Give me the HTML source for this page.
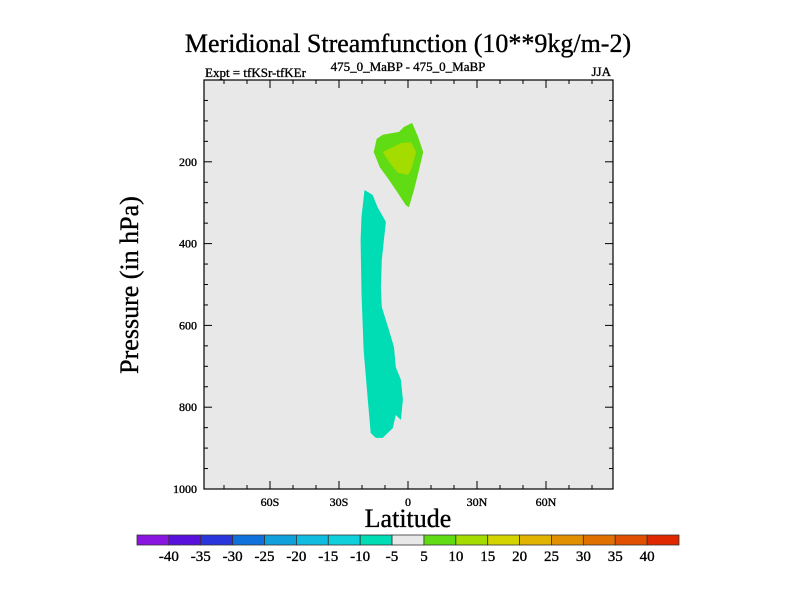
<!DOCTYPE html>
<html><head><meta charset="utf-8"><style>
html,body{margin:0;padding:0;background:#fff}
svg text{font-family:"Liberation Serif",serif;fill:#000;stroke:#000;stroke-width:0.35}
</style></head><body>
<svg id="chart" width="800" height="600" viewBox="0 0 800 600">
<text x="408" y="52" text-anchor="middle" font-size="26">Meridional Streamfunction (10**9kg/m-2)</text>
<text x="205" y="77" font-size="13">Expt = tfKSr-tfKEr</text>
<text x="408" y="71" text-anchor="middle" font-size="13">475_0_MaBP - 475_0_MaBP</text>
<text x="611" y="76" text-anchor="end" font-size="13">JJA</text>
<rect x="204" y="80" width="409" height="409" fill="#e8e8e8"/>
<g id="marks"></g>
<g id="axes"></g>
<rect x="204" y="80" width="409" height="409" fill="none" stroke="#000" stroke-width="1.2"/>
<text transform="translate(138,285) rotate(-90)" text-anchor="middle" font-size="26">Pressure (in hPa)</text>
<text x="408" y="527" text-anchor="middle" font-size="26">Latitude</text>
<g id="colorbar"></g>
</svg>
<script>
const levels=[-40,-35,-30,-25,-20,-15,-10,-5,5,10,15,20,25,30,35,40];
const colors=["#8a14e0","#5a10dc","#2a36dc","#1070dc","#10a0dc","#10bce0","#10d0dc","#00dcb4","#e8e8e8","#60dc14","#a4dc00","#d4d400","#e0b400","#e09000","#e07000","#e05000","#e02800"];
const yTicks=[200,400,600,800,1000];
const xTicks=[-60,-30,0,30,60];
const xTickLabels=["60S","30S","0","30N","60N"];
const pos10Lat=[-14.9,-13.6,-11.0,-3.9,-1.8,1.8,4.4,6.6,4.8,2.6,0.4,-0.9,-5.3,-8.3,-12.3];
const pos10P=[176,144,134,127,115,105,139,176,220,269,311,306,269,244,213];
const pos15Lat=[-11.0,-6.6,-3.1,1.3,3.5,1.3,0,-4.4,-7.9];
const pos15P=[176,164,154,152,176,220,232,227,203];
const negLat=[-18.9,-15.4,-13.2,-9.6,-10.5,-11.4,-11.8,-11.4,-8.3,-6.1,-5.3,-3.1,-2.2,-3.1,-5.3,-6.6,-11.0,-14.0,-16.2,-17.5,-19.3,-20.2,-20.6,-20.2];
const negP=[269,281,311,347,391,440,506,555,611,653,702,733,782,831,819,851,875,875,863,782,660,521,391,335];

const NS="http://www.w3.org/2000/svg";
const xS=lat=>408+lat*2.3;
const yS=p=>80+p*0.409;
function mk(tag,attrs,parent){const e=document.createElementNS(NS,tag);for(const k in attrs)e.setAttribute(k,attrs[k]);parent.appendChild(e);return e;}
const marks=document.getElementById('marks');
function poly(lats,ps,fill,name){
  const pts=lats.map((l,i)=>xS(l).toFixed(1)+","+yS(ps[i]).toFixed(1)).join(" ");
  const e=mk('polygon',{points:pts,fill:fill},marks);
  
  
}
poly(pos10Lat,pos10P,colors[9],'contour-positive-5-10');
poly(pos15Lat,pos15P,colors[10],'contour-positive-10-15');
poly(negLat,negP,colors[7],'contour-negative-10-5');

const ax=document.getElementById('axes');
for(let p=50;p<=1000;p+=50){
  const major=p%200===0;const L=major?8:4;const y=yS(p);
  const t=mk('line',{x1:204,x2:204+L,y1:y,y2:y,stroke:'#000','stroke-width':1},ax);
  
  
  const t2=mk('line',{x1:613,x2:613-L,y1:y,y2:y,stroke:'#000','stroke-width':1},ax);
  
  
}
yTicks.forEach(p=>{
  const t=mk('text',{x:197,y:yS(p)+4,'text-anchor':'end','font-size':12},ax);
  t.textContent=p;
  
  
});
for(let l=-80;l<=80;l+=10){
  const major=l%30===0;const L=major?8:4;const x=xS(l);
  const t=mk('line',{x1:x,x2:x,y1:489,y2:489-L,stroke:'#000','stroke-width':1},ax);
  
  
  const t2=mk('line',{x1:x,x2:x,y1:80,y2:80+L,stroke:'#000','stroke-width':1},ax);
  
  
}
xTicks.forEach((l,i)=>{
  const t=mk('text',{x:xS(l),y:506,'text-anchor':'middle','font-size':12},ax);
  t.textContent=xTickLabels[i];
  
  
});

const cb=document.getElementById('colorbar');
const cbX=137,cbW=542,cbY=535,cbH=10,bw=cbW/colors.length;
colors.forEach((c,i)=>{
  const r=mk('rect',{x:cbX+i*bw,y:cbY,width:bw,height:cbH,fill:c,stroke:'#333','stroke-width':0.8},cb);
  
  
});
levels.forEach((v,i)=>{
  const t=mk('text',{x:cbX+(i+1)*bw,y:561,'text-anchor':'middle','font-size':15},cb);
  t.textContent=v;
  
  
});
</script>
</body></html>
